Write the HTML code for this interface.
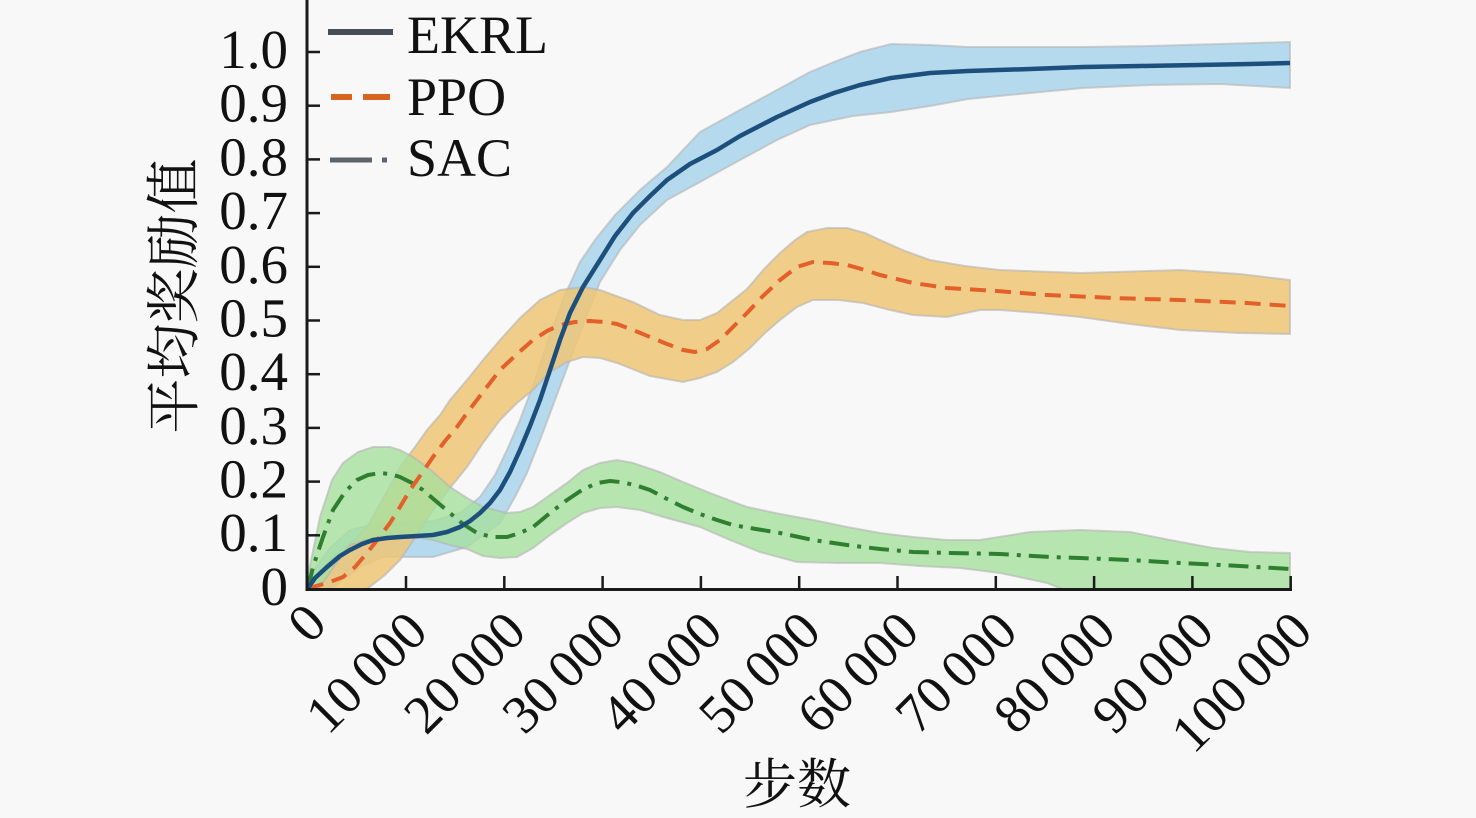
<!DOCTYPE html>
<html><head><meta charset="utf-8"><style>
html,body{margin:0;padding:0;background:#f8f8f8;}
svg{display:block;}
text{fill:#111;}
.lat{font-family:"Liberation Serif","Times New Roman",serif;}
.cjk{font-family:"Liberation Serif","Noto Serif CJK SC","Noto Sans CJK SC",serif;}
</style></head><body>
<svg width="1476" height="818" viewBox="0 0 1476 818" xmlns="http://www.w3.org/2000/svg">
<rect width="1476" height="818" fill="#f8f8f8"/>
<defs><clipPath id="pc"><rect x="308" y="0" width="984" height="588"/></clipPath></defs>
<g clip-path="url(#pc)">
<!-- Blue band -->
<polygon fill="#a9d5ec" fill-opacity="0.85" stroke="#b4b4b4" stroke-opacity="0.6" stroke-width="2" points="308,578 330,548 350,530 370,525 400,523 433,521 460,513 480,497 495,475 507,450 520,420 535,380 550,335 565,295 580,262 595,240 615,215 640,190 667,167 700,132 740,110 777,90 810,72 834,62 860,52 891,44 930,45 968,47 1030,47 1083,47 1150,46 1220,44 1290,42 1290,88 1220,84 1150,85 1083,88 1030,93 968,99 930,106 891,112 853,116 810,125 777,140 740,160 700,182 667,200 640,225 620,250 600,282 585,320 570,360 555,400 540,440 527,473 515,497 500,523 467,547 433,557 383,557 360,567 333,587 308,592"/>
<!-- Orange band -->
<polygon fill="#eec676" fill-opacity="0.85" stroke="#b4b4b4" stroke-opacity="0.6" stroke-width="2" points="308,585 330,560 350,545 367,527 385,495 400,467 415,447 427,430 440,415 450,400 467,380 483,360 500,340 520,318 540,300 560,290 583,287 600,290 633,302 660,315 683,320 700,320 717,313 747,289 765,268 780,253 795,240 807,232 827,228 847,228 865,233 880,240 905,251 930,260 965,266 1000,270 1080,273 1180,270 1240,274 1290,280 1290,334 1240,333 1180,330 1130,324 1080,317 1040,313 1000,310 980,310 947,317 913,315 890,310 863,303 838,300 813,300 797,307 780,320 765,333 750,348 733,362 717,372 700,378 683,382 650,376 617,363 600,358 583,357 567,362 550,372 533,390 517,403 500,420 483,443 467,467 450,488 433,510 417,535 400,560 385,575 367,589 340,592 308,592"/>
<!-- Green band -->
<polygon fill="#a6e09e" fill-opacity="0.8" stroke="#b4b4b4" stroke-opacity="0.6" stroke-width="2" points="308,575 320,517 332,480 343,463 358,452 373,447 390,447 400,450 413,457 427,467 440,478 450,487 467,498 483,507 507,513 520,512 533,507 550,495 567,483 583,470 600,463 617,460 633,463 660,472 683,482 710,493 747,507 780,514 813,520 847,527 880,533 913,537 947,540 980,540 1030,532 1080,530 1130,532 1170,540 1213,548 1250,552 1290,553 1290,592 1070,592 1047,583 1000,573 960,568 920,566 880,563 840,563 797,562 760,552 730,540 700,527 667,518 640,510 617,507 600,508 583,513 567,523 550,535 533,548 517,557 500,558 483,556 467,549 450,545 433,540 420,538 400,538 383,540 367,540 350,545 335,565 320,587 308,592"/>
<!-- SAC line -->
<polyline fill="none" stroke="#2f7f30" stroke-width="4" stroke-dasharray="20 8 4 8" stroke-linejoin="round" points="308,588 313,567 323,537 333,510 345,492 357,480 368,475 380,473 390,474 400,477 412,483 423,490 437,502 450,513 463,524 477,533 492,537 507,537 520,533 533,527 550,513 567,500 582,490 597,483 610,481 620,482 635,485 650,490 667,499 683,507 700,514 717,520 733,525 750,528 780,533 813,540 847,545 880,549 913,552 950,553 1000,554 1050,557 1080,558 1130,560 1180,563 1240,566 1290,569"/>
<!-- PPO line -->
<polyline fill="none" stroke="#e3602a" stroke-width="4" stroke-dasharray="16 9" stroke-linejoin="round" points="308,589 313,587 330,582 343,577 355,567 367,553 378,539 390,523 400,507 410,490 422,473 433,457 445,441 457,427 467,413 483,392 500,370 517,354 533,340 547,331 560,325 575,322 590,321 605,322 617,324 633,330 650,337 667,344 683,350 695,352 707,349 720,340 733,327 747,313 763,296 780,280 797,267 813,262 830,263 847,265 865,270 880,275 913,283 947,288 997,291 1047,295 1113,298 1180,300 1247,303 1290,306"/>
<!-- EKRL line -->
<polyline fill="none" stroke="#1d4f7c" stroke-width="4.5" stroke-linejoin="round" points="308,588 315,578 327,567 340,556 350,550 362,544 373,540 387,538 400,537 417,536 433,535 447,532 460,527 470,521 480,513 490,503 500,490 510,472 520,450 530,426 540,400 550,370 560,340 570,313 583,287 600,260 615,236 633,213 650,196 667,180 690,164 717,150 740,136 777,117 810,102 834,93 860,85 891,78 930,73 968,71 1030,69 1083,67 1140,66 1198,65 1250,64 1290,63"/>
</g>
<!-- axes -->
<line x1="307" y1="0" x2="307" y2="591" stroke="#1a1a1a" stroke-width="3"/>
<line x1="306" y1="589.5" x2="1292" y2="589.5" stroke="#1a1a1a" stroke-width="3"/>
<g stroke="#1a1a1a" stroke-width="2.5">
<line x1="307" y1="535.3" x2="320" y2="535.3"/>
<line x1="307" y1="481.6" x2="320" y2="481.6"/>
<line x1="307" y1="427.9" x2="320" y2="427.9"/>
<line x1="307" y1="374.2" x2="320" y2="374.2"/>
<line x1="307" y1="320.5" x2="320" y2="320.5"/>
<line x1="307" y1="266.8" x2="320" y2="266.8"/>
<line x1="307" y1="213.1" x2="320" y2="213.1"/>
<line x1="307" y1="159.4" x2="320" y2="159.4"/>
<line x1="307" y1="105.7" x2="320" y2="105.7"/>
<line x1="307" y1="52" x2="320" y2="52"/>
<line x1="406" y1="576" x2="406" y2="589"/>
<line x1="504.3" y1="576" x2="504.3" y2="589"/>
<line x1="602.6" y1="576" x2="602.6" y2="589"/>
<line x1="700.9" y1="576" x2="700.9" y2="589"/>
<line x1="799.2" y1="576" x2="799.2" y2="589"/>
<line x1="897.5" y1="576" x2="897.5" y2="589"/>
<line x1="995.8" y1="576" x2="995.8" y2="589"/>
<line x1="1094.1" y1="576" x2="1094.1" y2="589"/>
<line x1="1192.4" y1="576" x2="1192.4" y2="589"/>
<line x1="1290.7" y1="576" x2="1290.7" y2="589"/>
</g>
<!-- y tick labels -->
<g class="lat" font-family="Liberation Serif, serif" font-size="55" text-anchor="end">
<text x="288" y="605">0</text>
<text x="288" y="551">0.1</text>
<text x="288" y="497.6">0.2</text>
<text x="288" y="443.9">0.3</text>
<text x="288" y="390.2">0.4</text>
<text x="288" y="336.5">0.5</text>
<text x="288" y="282.8">0.6</text>
<text x="288" y="229.1">0.7</text>
<text x="288" y="175.4">0.8</text>
<text x="288" y="121.7">0.9</text>
<text x="288" y="68">1.0</text>
</g>
<!-- x tick labels -->
<g class="lat" font-family="Liberation Serif, serif" font-size="54" text-anchor="end" style="word-spacing:-4px">
<text transform="translate(329,626) rotate(-45)">0</text>
<text transform="translate(430,634) rotate(-45)">10 000</text>
<text transform="translate(528.3,634) rotate(-45)">20 000</text>
<text transform="translate(626.6,634) rotate(-45)">30 000</text>
<text transform="translate(724.9,634) rotate(-45)">40 000</text>
<text transform="translate(823.2,634) rotate(-45)">50 000</text>
<text transform="translate(921.5,634) rotate(-45)">60 000</text>
<text transform="translate(1019.8,634) rotate(-45)">70 000</text>
<text transform="translate(1118.1,634) rotate(-45)">80 000</text>
<text transform="translate(1216.4,634) rotate(-45)">90 000</text>
<text transform="translate(1314.7,634) rotate(-45)">100 000</text>
</g>
<!-- axis titles -->
<text class="cjk" font-size="55" text-anchor="middle" transform="translate(193,296) rotate(-90)">平均奖励值</text>
<text class="cjk" font-size="54" text-anchor="middle" x="797" y="803">步数</text>
<!-- legend -->
<line x1="328" y1="32" x2="393" y2="32" stroke="#474e58" stroke-width="6"/>
<line x1="331" y1="97" x2="352" y2="97" stroke="#d8651f" stroke-width="6"/>
<line x1="363" y1="97" x2="390" y2="97" stroke="#d8651f" stroke-width="6"/>
<line x1="330" y1="160" x2="372" y2="160" stroke="#5c636b" stroke-width="5"/>
<line x1="382" y1="160" x2="387" y2="160" stroke="#5c636b" stroke-width="5"/>
<g class="lat" font-family="Liberation Serif, serif" font-size="54">
<text x="407" y="53">EKRL</text>
<text x="407" y="115">PPO</text>
<text x="407" y="176">SAC</text>
</g>
</svg>
</body></html>
